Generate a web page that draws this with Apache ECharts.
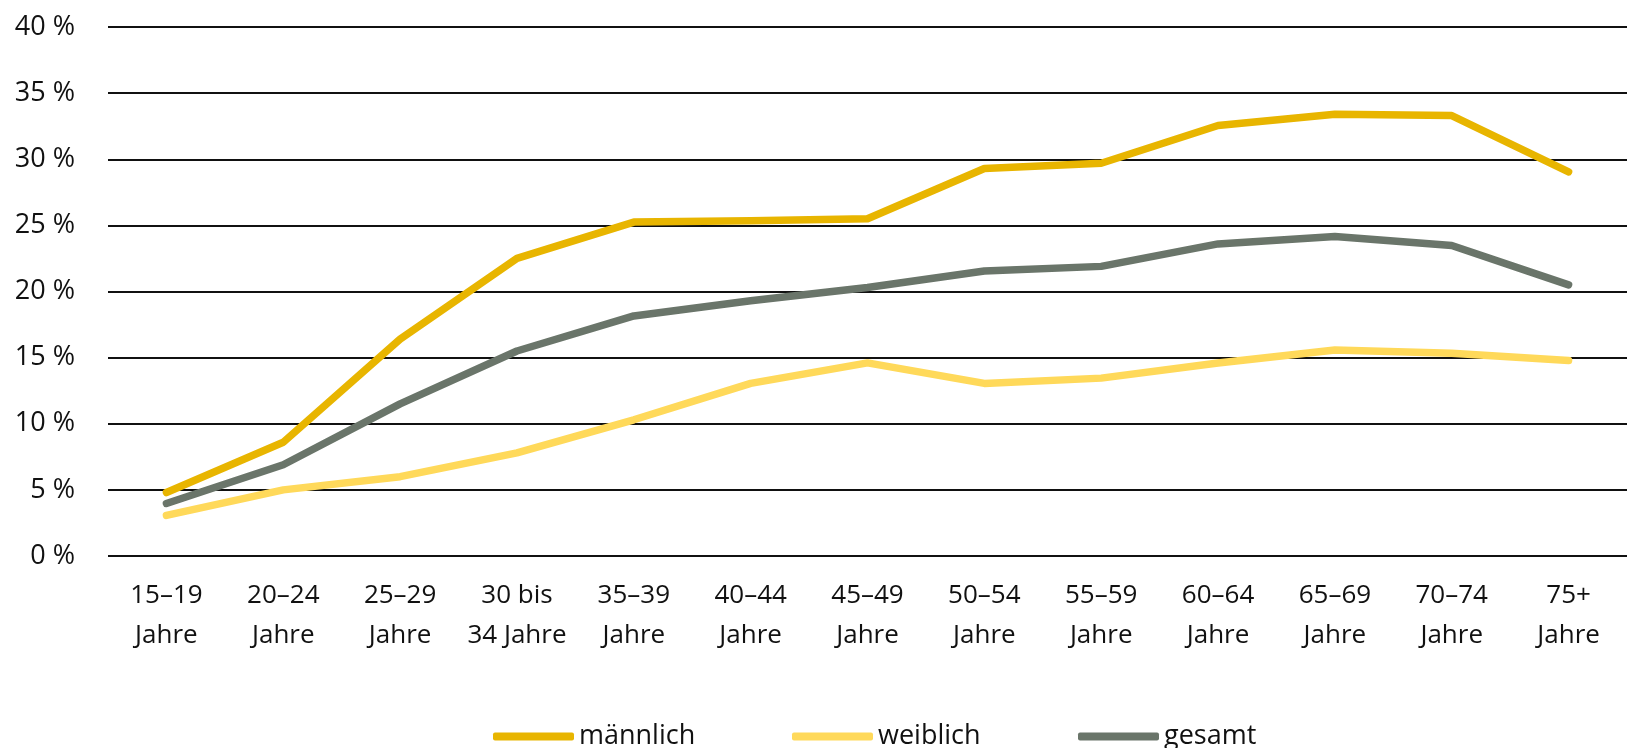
<!DOCTYPE html>
<html>
<head>
<meta charset="utf-8">
<script src="https://cdn.jsdelivr.net/npm/echarts@6/dist/echarts.min.js"></script>
<style>
html,body{margin:0;padding:0;background:#fff;}
#c{width:1627px;height:748px;}
</style>
</head>
<body>
<div id="c"></div>
<script>
const categories = ["15–19\nJahre","20–24\nJahre","25–29\nJahre","30 bis\n34 Jahre","35–39\nJahre","40–44\nJahre","45–49\nJahre","50–54\nJahre","55–59\nJahre","60–64\nJahre","65–69\nJahre","70–74\nJahre","75+\nJahre"];
const maennlich = [4.8, 8.6, 16.4, 22.5, 25.25, 25.35, 25.5, 29.3, 29.7, 32.55, 33.4, 33.3, 29.05];
const weiblich = [3.07, 5.0, 6.0, 7.8, 10.3, 13.05, 14.6, 13.05, 13.45, 14.6, 15.58, 15.33, 14.78];
const gesamt = [3.97, 6.9, 11.5, 15.5, 18.15, 19.3, 20.3, 21.55, 21.9, 23.6, 24.16, 23.48, 20.5];
const seriesNames = ["männlich","weiblich","gesamt"];
const colors = ["#E8B500","#FFD95A","#6A756A"];
const FONT = "'Open Sans', 'DejaVu Sans', sans-serif";

const chart = echarts.init(document.getElementById('c'), null, {renderer:'canvas'});
const legendLefts = [488, 787, 1073];
const option = {
  animation:false,
  backgroundColor:'#ffffff',
  grid:{left:108, right:0, top:27, bottom:192, containLabel:false},
  legend: seriesNames.map((n,i)=>({
    data:[n], left:legendLefts[i], top:718, itemWidth:81, itemHeight:8, icon:'roundRect', itemGap:0,
    textStyle:{fontFamily:FONT, fontSize:27, color:'#111'}
  })),
  xAxis:{
    type:'category', data:categories, boundaryGap:true,
    axisLine:{show:false}, axisTick:{show:false},
    axisLabel:{interval:0, margin:20, fontFamily:FONT, fontSize:26, color:'#111', lineHeight:40}
  },
  yAxis:{
    type:'value', min:0, max:40, interval:5,
    axisLine:{show:false}, axisTick:{show:false},
    splitLine:{lineStyle:{color:'#111', width:1.8}},
    axisLabel:{margin:33, fontFamily:FONT, fontSize:27, color:'#111', formatter:v=>v+' %'}
  },
  series:[
    {name:seriesNames[0], data:maennlich},
    {name:seriesNames[1], data:weiblich},
    {name:seriesNames[2], data:gesamt}
  ].map((s,i)=>({
    name:s.name, type:'line', data:s.data, symbol:'none', smooth:false,
    itemStyle:{color:colors[i]},
    lineStyle:{color:colors[i], width:7.5, cap:'round', join:'round'},
    z: i===0?4:(i===2?3:2)
  }))
};
chart.setOption(option);
</script>
</body>
</html>
